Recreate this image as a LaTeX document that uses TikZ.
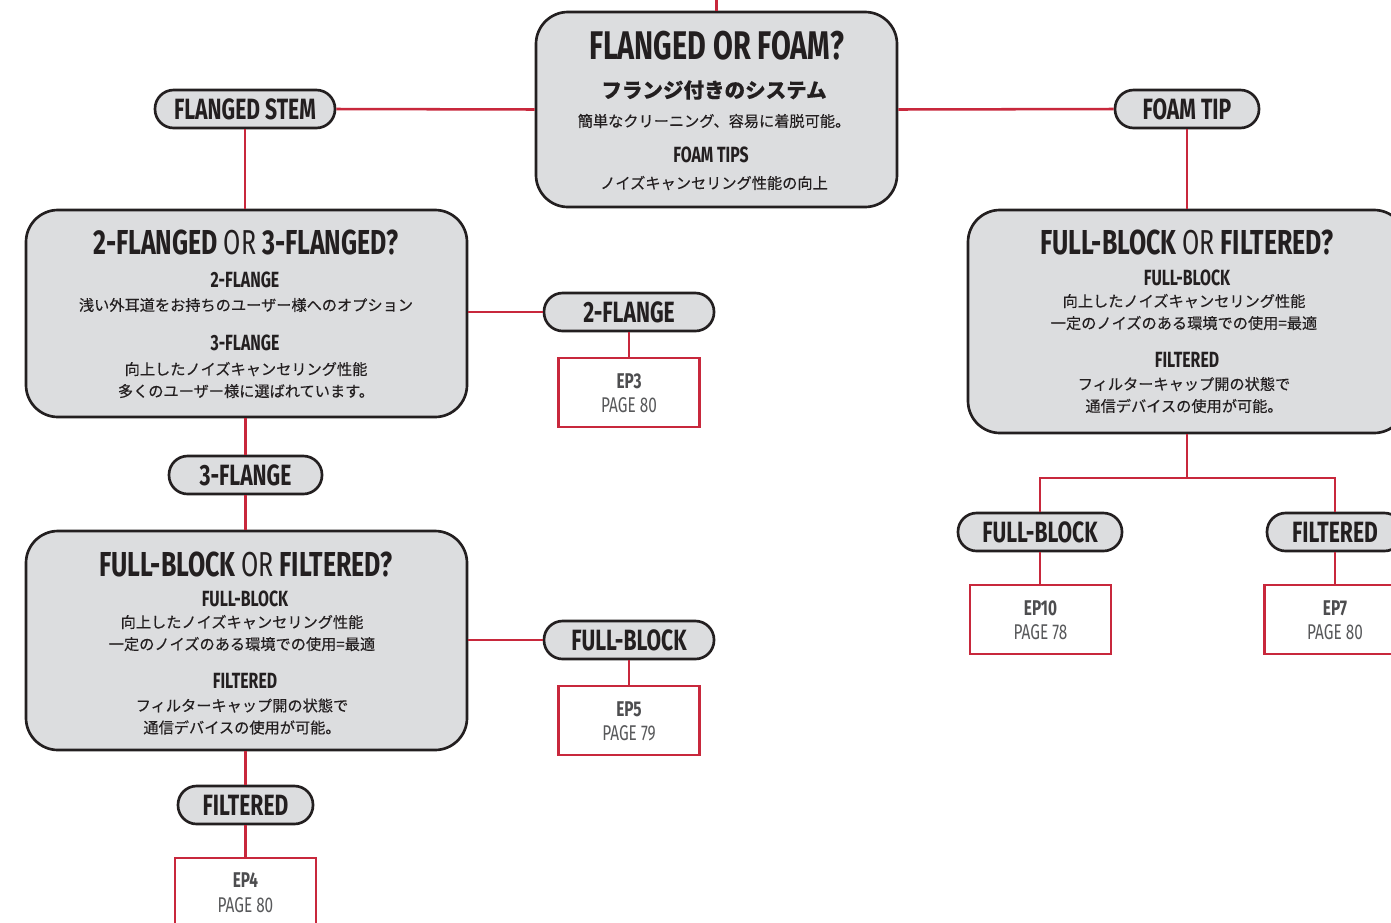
\documentclass[tikz,border=0pt]{standalone}
\usepackage{fontspec}
\setmainfont{Fira Sans}
\newfontfamily\cnd[FakeStretch=0.72]{Fira Sans}
\newfontfamily\jp[FakeBold=0.3]{Noto Sans CJK JP}
\definecolor{ink}{HTML}{231F20}
\definecolor{boxgray}{HTML}{DCDDDF}
\definecolor{lred}{HTML}{C8283C}
\definecolor{epgray}{HTML}{4D4D4F}
\definecolor{pggray}{HTML}{58595B}
\tikzset{
  qbox/.style={draw=ink, line width=2pt, fill=boxgray, rounded corners=24pt, inner sep=0pt},
  pill/.style={draw=ink, line width=2pt, fill=boxgray, rounded corners=14pt, minimum height=28.5pt, inner sep=0pt,
     font=\cnd\bfseries\fontsize{22}{24}\selectfont, text=ink},
  rbox/.style={draw=lred, line width=1.9pt, fill=white, minimum width=106pt, minimum height=51.75pt, inner sep=0pt},
  rline/.style={draw=lred, line width=1.9pt},
  ttl/.style={inner sep=0pt, text=ink, font=\cnd\bfseries\fontsize{26}{28}\selectfont},
  sub/.style={inner sep=0pt, text=ink, font=\cnd\bfseries\fontsize{16.5}{18}\selectfont},
  jtxt/.style={inner sep=0pt, text=ink, align=center, font=\jp\fontsize{11.4}{16.5}\selectfont},
  ep/.style={inner sep=0pt, text=epgray, font=\cnd\bfseries\fontsize{16}{18}\selectfont},
  pg/.style={inner sep=0pt, text=pggray, font=\cnd\fontsize{16}{18}\selectfont},
}
\begin{document}
\begin{tikzpicture}[x=0.75pt,y=-0.75pt]
\useasboundingbox (0,0) rectangle (1391,922);
\clip (0,0) rectangle (1391,922);
% question boxes
\node[qbox, minimum width=270.75pt, minimum height=146.25pt] (q1) at (716.5,109.5) {};
\node[qbox, minimum width=330.75pt, minimum height=155.25pt] (q2) at (246.5,313.5) {};
\node[qbox, minimum width=330.75pt, minimum height=164.25pt] (q3) at (246.5,640.5) {};
\node[qbox, minimum width=328.5pt, minimum height=167.25pt] (q4) at (1187,321.5) {};
% pills
\node[pill, minimum width=135pt] (stem) at (245,109) {FLANGED STEM};
\node[pill, minimum width=108pt] (foam) at (1187,109) {FOAM TIP};
\node[pill, minimum width=127.5pt] (two) at (629,312) {2-FLANGE};
\node[pill, minimum width=114.75pt] (three) at (245.5,475) {3-FLANGE};
\node[pill, minimum width=127.5pt] (fbl) at (629,640) {FULL-BLOCK};
\node[pill, minimum width=101.25pt] (fil) at (245.5,805) {FILTERED};
\node[pill, minimum width=123pt] (fbr) at (1040,532) {FULL-BLOCK};
\node[pill, minimum width=102pt] (fir) at (1335,532) {FILTERED};
% result boxes
\node[rbox] (ep3) at (629,392.5) {};
\node[rbox] (ep5) at (629,720.5) {};
\node[rbox] (ep4) at (245.5,892.5) {};
\node[rbox] (ep10) at (1040.5,619.5) {};
\node[rbox] (ep7) at (1335,619.5) {};
% connectors
\coordinate (topin) at (716.5,0);
\coordinate (split) at (1187,478);
\draw[rline] (topin) -- (q1.north);
\draw[rline] (stem.east) -- (q1.west);
\draw[rline] (q1.east) -- (foam.west);
\draw[rline] (stem.south) -- (stem.south |- q2.north);
\draw[rline] (foam.south) -- (foam.south |- q4.north);
\draw[rline] (q2.east |- two.west) -- (two.west);
\draw[rline] (two.south) -- (ep3.north);
\draw[rline] (three.north) -- (three.north |- q2.south);
\draw[rline] (three.south) -- (three.south |- q3.north);
\draw[rline] (q3.east |- fbl.west) -- (fbl.west);
\draw[rline] (fbl.south) -- (ep5.north);
\draw[rline] (fil.north) -- (fil.north |- q3.south);
\draw[rline] (fil.south) -- (ep4.north);
\draw[rline] (q4.south) -- (split);
\draw[rline] (split) -| (fbr.north);
\draw[rline] (split) -| (fir.north);
\draw[rline] (fbr.south) -- (fbr.south |- ep10.north);
\draw[rline] (fir.south) -- (ep7.north);
% box 1 text
\node[ttl, font=\cnd\bfseries\fontsize{30}{32}\selectfont] (q1t) at (716.5,46) {FLANGED OR FOAM?};
\node[jtxt, font=\jp\bfseries\fontsize{15.4}{18}\selectfont] (q1s) at (714,90) {フランジ付きのシステム};
\node[jtxt] (q1a) at (714,121) {簡単なクリーニング、容易に着脱可能。};
\node[sub] (q1b) at (711,155) {FOAM TIPS};
\node[jtxt] (q1c) at (714,183) {ノイズキャンセリング性能の向上};
% box 2 text
\node[ttl] (q2t) at (246,242) {2-FLANGED {\mdseries OR} 3-FLANGED?};
\node[sub] (q2a) at (245,280) {2-FLANGE};
\node[jtxt] (q2b) at (246,305) {浅い外耳道をお持ちのユーザー様へのオプション};
\node[sub] (q2c) at (245,343) {3-FLANGE};
\node[jtxt] (q2d) at (246,380) {向上したノイズキャンセリング性能\\多くのユーザー様に選ばれています。};
% box 3 text
\node[ttl] (q3t) at (246,564) {FULL-BLOCK {\mdseries OR} FILTERED?};
\node[sub] (q3a) at (245,599) {FULL-BLOCK};
\node[jtxt] (q3b) at (242,633) {向上したノイズキャンセリング性能\\一定のノイズのある環境での使用=最適};
\node[sub] (q3c) at (245,681) {FILTERED};
\node[jtxt] (q3d) at (242,716.5) {フィルターキャップ開の状態で\\通信デバイスの使用が可能。};
% box 4 text
\node[ttl] (q4t) at (1187,242) {FULL-BLOCK {\mdseries OR} FILTERED?};
\node[sub] (q4a) at (1187,278) {FULL-BLOCK};
\node[jtxt] (q4b) at (1184,312) {向上したノイズキャンセリング性能\\一定のノイズのある環境での使用=最適};
\node[sub] (q4c) at (1187,360) {FILTERED};
\node[jtxt] (q4d) at (1184,395) {フィルターキャップ開の状態で\\通信デバイスの使用が可能。};
% result texts
\node[ep] (ep3a) at (629,381) {EP3};
\node[pg] (ep3b) at (629,405) {PAGE 80};
\node[ep] (ep5a) at (629,709) {EP5};
\node[pg] (ep5b) at (629,733) {PAGE 79};
\node[ep] (ep4a) at (245.5,880) {EP4};
\node[pg] (ep4b) at (245.5,905) {PAGE 80};
\node[ep] (ep10a) at (1040.5,608) {EP10};
\node[pg] (ep10b) at (1040.5,632) {PAGE 78};
\node[ep] (ep7a) at (1335,608) {EP7};
\node[pg] (ep7b) at (1335,632) {PAGE 80};
\end{tikzpicture}
\end{document}
